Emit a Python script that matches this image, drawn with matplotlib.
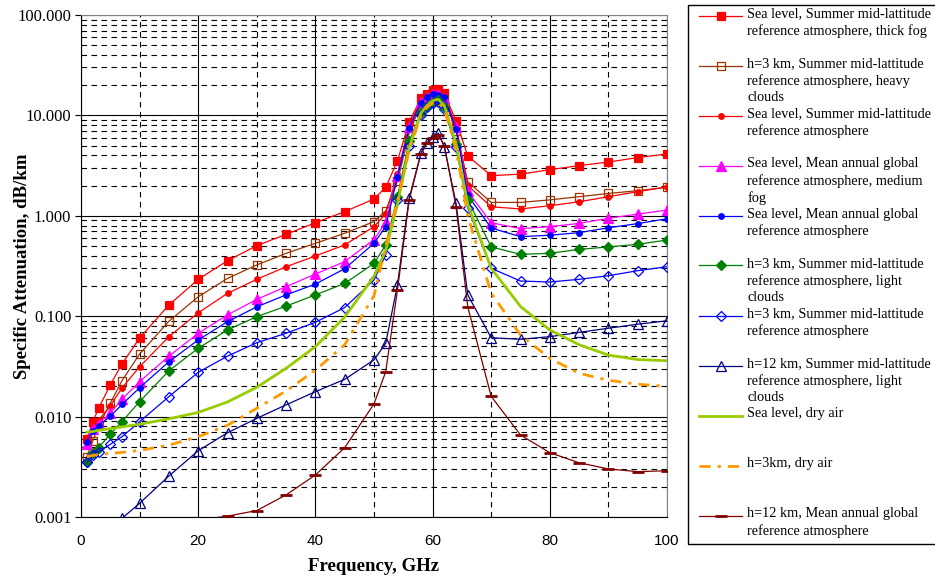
import numpy as np
import matplotlib.pyplot as plt
from matplotlib.lines import Line2D
from matplotlib.patches import Rectangle
from matplotlib.ticker import MultipleLocator, LogLocator, FormatStrFormatter, NullFormatter

nan = np.nan

# frequency points, GHz
freq = [1, 2, 3, 5, 7, 10, 15, 20, 25, 30, 35, 40, 45, 50, 52, 54, 56, 58, 59, 60,
        61, 62, 64, 66, 70, 75, 80, 85, 90, 95, 100]

# specific attenuation, dB/km
sea_summer_thick_fog = [0.0060, 0.0088, 0.0121, 0.0207, 0.0334, 0.0607, 0.129, 0.233, 0.357, 0.504,
                        0.654, 0.853, 1.10, 1.47, 1.92, 3.52, 8.6, 14.8, 16.4, 17.9,
                        18.2, 16.6, 8.8, 3.95, 2.51, 2.60, 2.88, 3.16, 3.43, 3.80, 4.13]
h3_summer_heavy_clouds = [0.0040, 0.0057, 0.0080, 0.0136, 0.0228, 0.042, 0.089, 0.156, 0.238, 0.324,
                          0.423, 0.532, 0.67, 0.875, 1.12, 2.2, 6.6, 13.0, 14.5, 15.5,
                          15.8, 14.5, 7.0, 2.19, 1.36, 1.36, 1.44, 1.55, 1.67, 1.78, 1.92]
sea_summer = [0.0057, 0.0078, 0.0092, 0.0128, 0.0193, 0.0314, 0.0625, 0.108, 0.169, 0.233,
              0.311, 0.398, 0.513, 0.78, 1.05, 2.6, 8.0, 14.0, 15.5, 16.8,
              16.8, 15.5, 8.0, 2.0, 1.23, 1.17, 1.26, 1.38, 1.55, 1.74, 1.94]
sea_mean_medium_fog = [0.0053, 0.0075, 0.0085, 0.0108, 0.0149, 0.0223, 0.040, 0.0676, 0.103, 0.147,
                       0.197, 0.263, 0.35, 0.58, 0.86, 2.5, 7.6, 13.5, 15.2, 16.2,
                       16.2, 15.0, 7.7, 1.75, 0.853, 0.745, 0.78, 0.84, 0.945, 1.04, 1.14]
sea_mean = [0.0056, 0.0072, 0.0081, 0.0101, 0.0132, 0.0194, 0.0352, 0.058, 0.0883, 0.124,
            0.163, 0.209, 0.297, 0.532, 0.78, 2.45, 7.5, 13.4, 15.3, 16.3,
            15.9, 15.1, 7.4, 1.6, 0.755, 0.62, 0.64, 0.68, 0.76, 0.836, 0.935]
h3_summer_light_clouds = [0.00356, 0.0043, 0.0049, 0.0067, 0.0089, 0.0141, 0.0286, 0.0479, 0.073, 0.099,
                          0.126, 0.163, 0.212, 0.336, 0.51, 1.55, 5.5, 10.6, 12.4, 13.7,
                          14.2, 12.2, 5.15, 1.44, 0.49, 0.413, 0.423, 0.463, 0.49, 0.52, 0.574]
h3_summer = [0.0035, 0.0041, 0.00447, 0.0053, 0.0063, 0.0089, 0.0158, 0.0276, 0.040, 0.0545,
             0.0676, 0.087, 0.122, 0.229, 0.41, 1.44, 5.0, 10.0, 12.0, 13.2,
             13.5, 11.5, 4.8, 1.2, 0.30, 0.224, 0.219, 0.233, 0.253, 0.284, 0.311]
h12_summer_light_clouds = [nan, nan, nan, nan, 0.00097, 0.00137, 0.00256, 0.00457, 0.0069, 0.0096,
                           0.0131, 0.0177, 0.0235, 0.0367, 0.0537, 0.205, 1.49, 4.19, 5.27, 6.13,
                           6.64, 4.87, 1.33, 0.163, 0.061, 0.0589, 0.0625, 0.069, 0.0759, 0.0832, 0.090]
sea_dry = [0.0070, 0.0071, 0.0073, 0.0076, 0.0079, 0.0084, 0.0095, 0.011, 0.014, 0.0196,
           0.0303, 0.0497, 0.098, 0.25, 0.45, 1.3, 4.8, 10.5, 12.5, 14.0,
           14.5, 12.5, 5.2, 1.3, 0.30, 0.125, 0.073, 0.052, 0.041, 0.037, 0.036]
h3_dry = [0.0040, 0.0041, 0.0042, 0.0043, 0.0044, 0.0046, 0.0052, 0.0063, 0.0082, 0.0121,
          0.018, 0.029, 0.052, 0.16, 0.5, 1.4, 4.5, 10.0, 12.0, 13.2,
          13.5, 11.5, 4.6, 1.0, 0.17, 0.065, 0.038, 0.027, 0.023, 0.021, 0.020]
h12_mean = [nan, nan, nan, nan, nan, nan, nan, 0.00093, 0.00102, 0.00116,
            0.00166, 0.00262, 0.0049, 0.0134, 0.028, 0.182, 1.44, 4.13, 5.27, 5.9,
            6.38, 4.99, 1.23, 0.124, 0.0159, 0.00656, 0.00437, 0.00347, 0.00301, 0.00283, 0.00289]

labels = [
    "Sea level, Summer mid-lattitude\nreference atmosphere, thick fog",
    "h=3 km, Summer mid-lattitude\nreference atmosphere, heavy\nclouds",
    "Sea level, Summer mid-lattitude\nreference atmosphere",
    "Sea level, Mean annual global\nreference atmosphere, medium\nfog",
    "Sea level, Mean annual global\nreference atmosphere",
    "h=3 km, Summer mid-lattitude\nreference atmosphere, light\nclouds",
    "h=3 km, Summer mid-lattitude\nreference atmosphere",
    "h=12 km, Summer mid-lattitude\nreference atmosphere, light\nclouds",
    "Sea level, dry air",
    "h=3km, dry air",
    "h=12 km, Mean annual global\nreference atmosphere",
]

series = [sea_summer_thick_fog, h3_summer_heavy_clouds, sea_summer, sea_mean_medium_fog, sea_mean,
          h3_summer_light_clouds, h3_summer, h12_summer_light_clouds, sea_dry, h3_dry, h12_mean]

# color, marker, markersize, facecolor, linestyle, linewidth
styles = [
    ('#FF0000', 's', 6.0, '#FF0000', '-', 0.9),
    ('#993300', 's', 6.3, 'none', '-', 0.9),
    ('#FF0000', 'o', 4.0, '#FF0000', '-', 0.9),
    ('#FF00FF', '^', 6.5, '#FF00FF', '-', 0.9),
    ('#0000FF', 'o', 4.0, '#0000FF', '-', 0.9),
    ('#008000', 'D', 5.3, '#008000', '-', 0.9),
    ('#0000FF', 'D', 5.3, 'none', '-', 0.9),
    ('#000080', '^', 7.0, 'none', '-', 0.9),
    ('#99CC00', '', 0, 'none', '-', 2.0),
    ('#FF9900', '', 0, 'none', (0, (4, 2.5, 1.2, 2.5)), 2.0),
    ('#800000', '_', 8.0, '#800000', '-', 0.9),
]

serif = 'Liberation Serif'
sans = 'Liberation Sans'

fig = plt.figure(figsize=(9.35, 5.8), dpi=100)
ax = fig.add_axes([81 / 935, 1 - 517 / 580, 586 / 935, 502 / 580])

for vals, (c, m, ms, mfc, ls, lw) in zip(series, styles):
    mew = 2.0 if m == '_' else 0.9
    ax.plot(freq, vals, color=c, marker=m, markersize=ms, markerfacecolor=mfc,
            markeredgecolor=c, markeredgewidth=mew, linestyle=ls, linewidth=lw, zorder=3)

ax.set_yscale('log')
ax.set_xlim(0, 100)
ax.set_ylim(0.001, 100)
ax.xaxis.set_major_locator(MultipleLocator(20))
ax.xaxis.set_minor_locator(MultipleLocator(10))
ax.yaxis.set_major_locator(LogLocator(base=10))
ax.yaxis.set_minor_locator(LogLocator(base=10, subs=np.arange(2, 10)))
ax.yaxis.set_major_formatter(FormatStrFormatter('%.3f'))
ax.yaxis.set_minor_formatter(NullFormatter())

ax.grid(which='major', color='black', linestyle='-', linewidth=0.8)
ax.grid(which='minor', color='black', linestyle=(0, (5, 4)), linewidth=0.8)
ax.set_axisbelow(True)

ax.tick_params(axis='x', which='both', length=0, pad=12, labelsize=11)
ax.tick_params(axis='y', which='major', length=4, width=0.8, pad=3, labelsize=12)
ax.tick_params(axis='y', which='minor', length=0)
for t in ax.get_xticklabels():
    t.set_fontfamily(sans)
for t in ax.get_yticklabels():
    t.set_fontfamily(serif)

for s in ['top', 'right']:
    ax.spines[s].set_color('#808080')
for s in ['left', 'bottom']:
    ax.spines[s].set_color('black')

ax.set_xlabel('Frequency, GHz', fontfamily=serif, fontweight='bold', fontsize=13.5)
ax.set_ylabel('Specific Attenuation, dB/km', fontfamily=serif, fontweight='bold', fontsize=13.5)
ax.xaxis.set_label_coords(0.5, -(558 - 517) / 502)
ax.yaxis.set_label_coords(-(81 - 31) / 586, 0.5)

# legend box drawn by hand (handles beside the first line of each label)
fig.add_artist(Rectangle((688 / 935, 1 - 544 / 580), 260 / 935, 539 / 580,
                         transform=fig.transFigure, facecolor='white', edgecolor='black',
                         linewidth=1.0, clip_on=False))
for i, (lab, (c, m, ms, mfc, ls, lw)) in enumerate(zip(labels, styles)):
    yp = 15.5 + 50 * i
    fy = 1 - yp / 580
    fig.add_artist(Line2D([699 / 935, 742 / 935], [fy, fy], transform=fig.transFigure,
                          color=c, linestyle=ls, linewidth=lw))
    if m:
        mew = 2.0 if m == '_' else 0.9
        fig.add_artist(Line2D([720.5 / 935], [fy], transform=fig.transFigure, color=c,
                              marker=m, markersize=ms, markerfacecolor=mfc,
                              markeredgecolor=c, markeredgewidth=mew, linestyle='none'))
    fig.text(747 / 935, 1 - (yp - 8) / 580, lab, fontfamily=serif, fontsize=10.3,
             va='top', ha='left', linespacing=1.32)

fig.savefig('out.png', dpi=100)
